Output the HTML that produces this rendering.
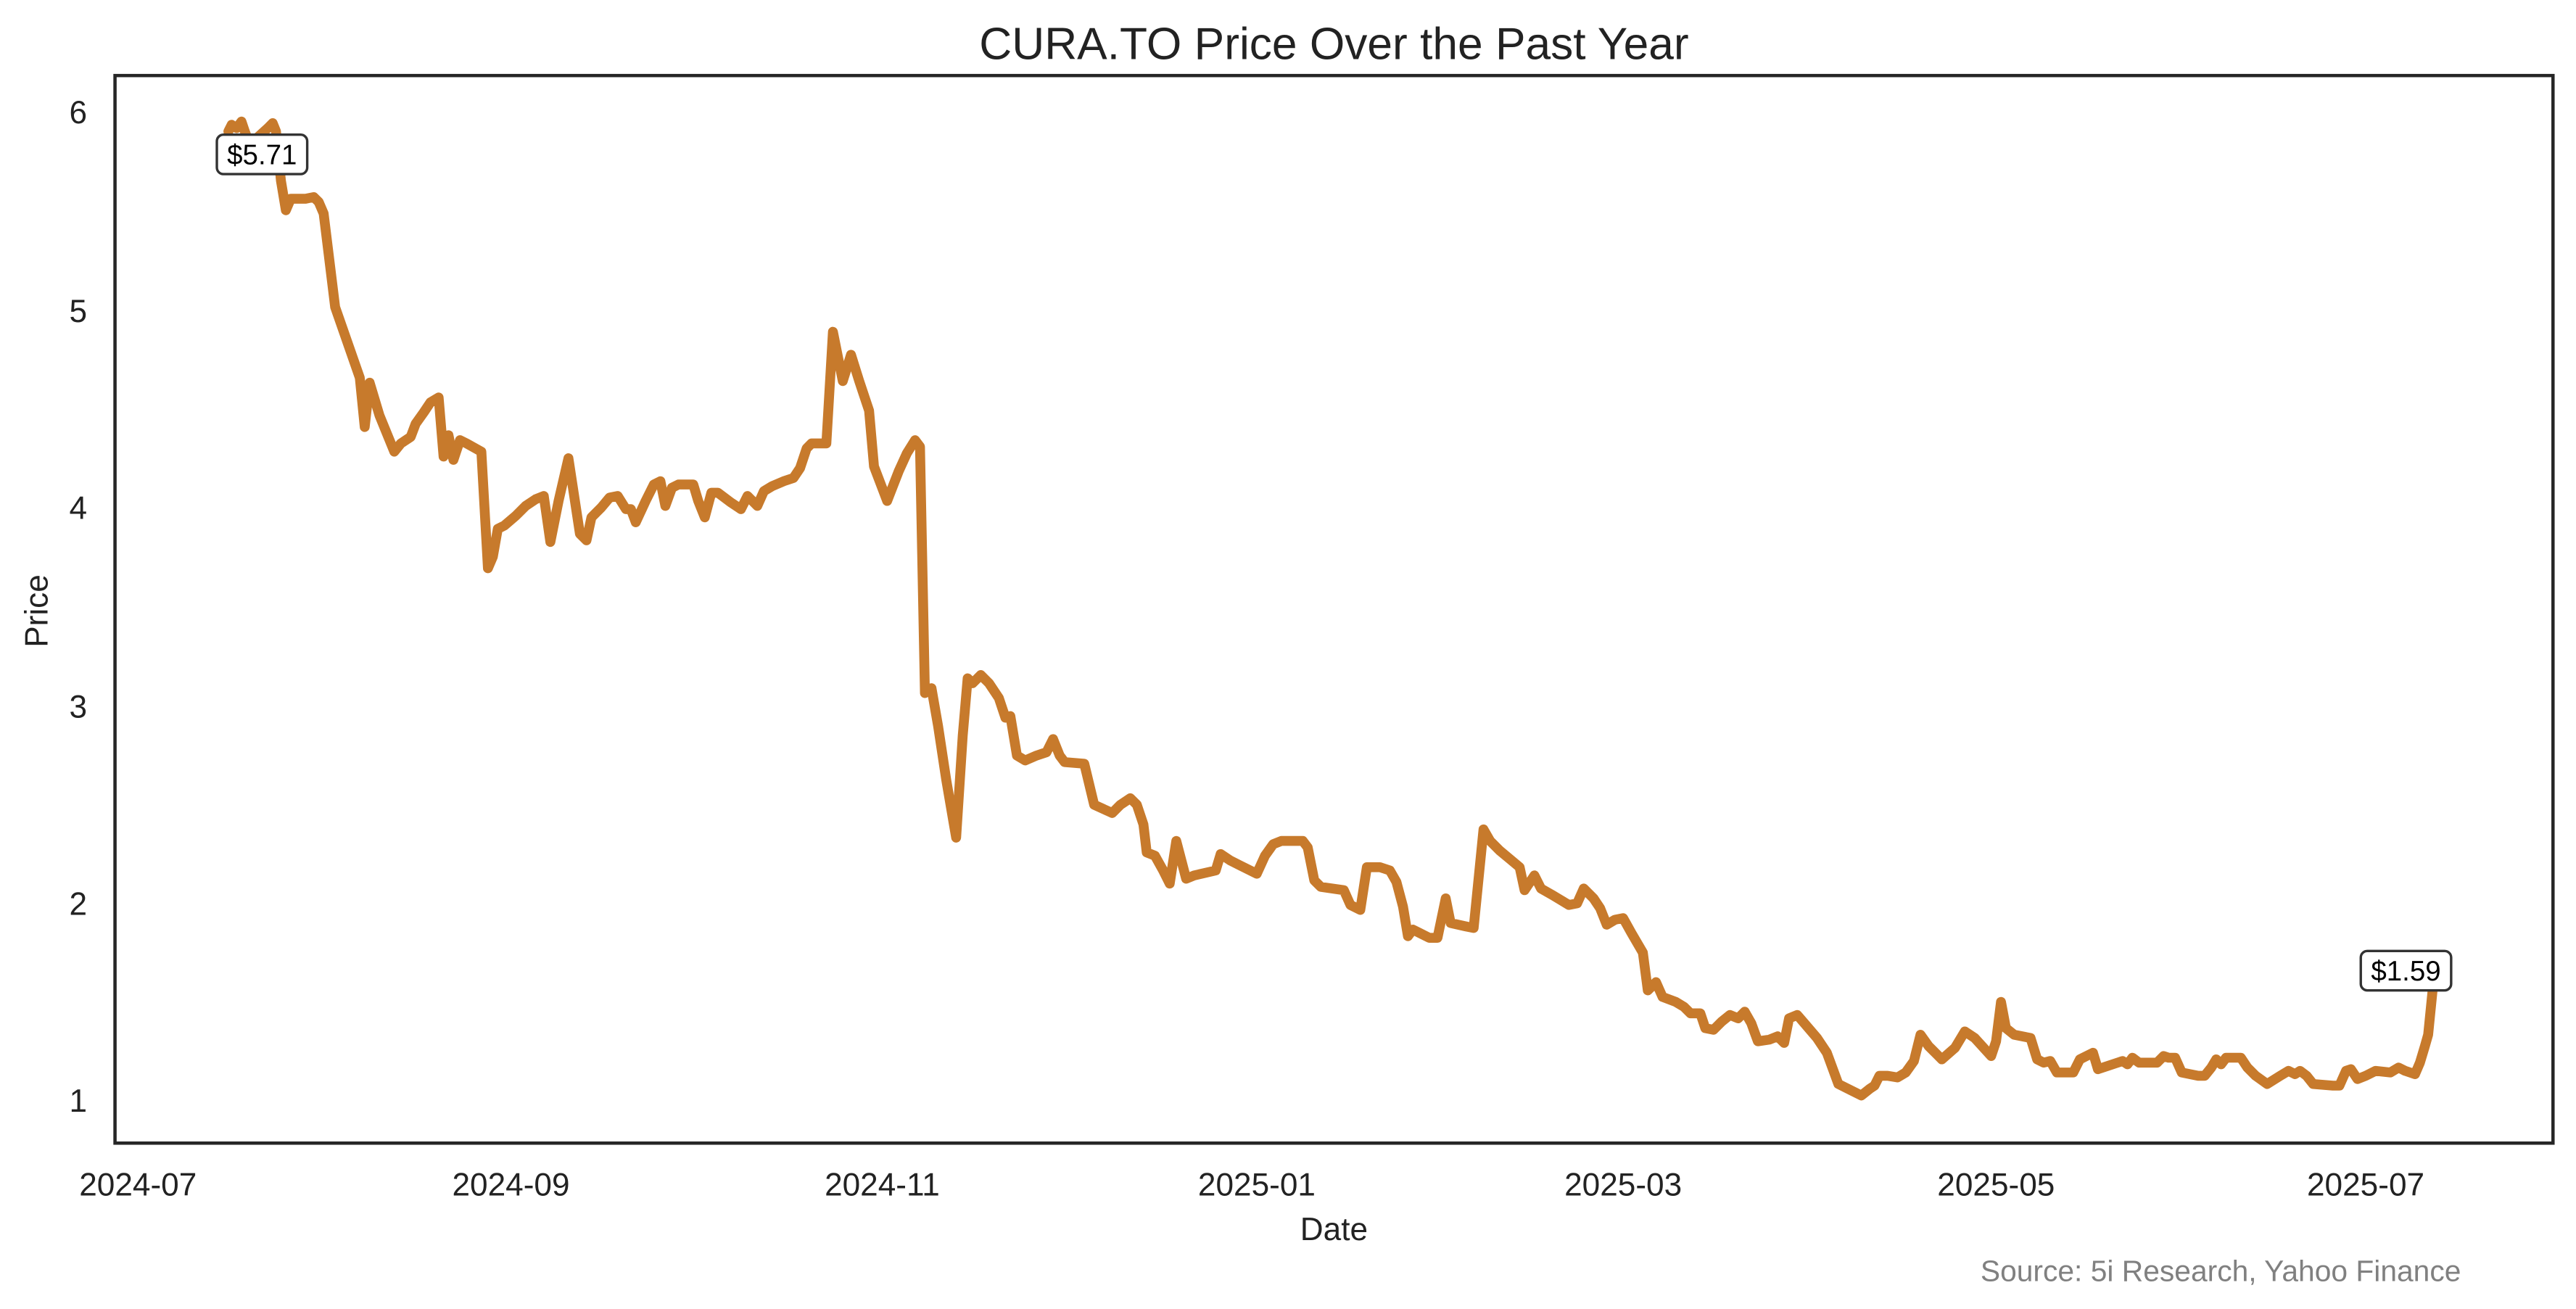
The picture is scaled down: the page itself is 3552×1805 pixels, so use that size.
<!DOCTYPE html>
<html><head><meta charset="utf-8"><style>html,body{margin:0;padding:0;background:#fff}svg{display:block}</style></head>
<body>
<svg width="3552" height="1805" viewBox="0 0 1568 797" preserveAspectRatio="none" xmlns="http://www.w3.org/2000/svg" font-family="Liberation Sans, Arial, sans-serif">
<rect width="1568" height="797" fill="#fff"/>
<text x="812" y="36" font-size="27.5" text-anchor="middle" fill="#222">CURA.TO Price Over the Past Year</text>
<g font-size="19.5" fill="#222" text-anchor="end">
<text x="53" y="75">6</text><text x="53" y="196">5</text><text x="53" y="316">4</text>
<text x="53" y="437">3</text><text x="53" y="557">2</text><text x="53" y="677">1</text>
</g>
<g font-size="19.5" fill="#222" text-anchor="middle">
<text x="84" y="728">2024-07</text><text x="311" y="728">2024-09</text><text x="537" y="728">2024-11</text>
<text x="765" y="728">2025-01</text><text x="988" y="728">2025-03</text><text x="1215" y="728">2025-05</text>
<text x="1440" y="728">2025-07</text>
</g>
<text x="812" y="755" font-size="19.5" fill="#222" text-anchor="middle">Date</text>
<text transform="translate(29,372) rotate(-90)" font-size="19.5" fill="#222" text-anchor="middle">Price</text>
<text x="1498" y="780" font-size="18" fill="#808080" text-anchor="end">Source: 5i Research, Yahoo Finance</text>
<polyline fill="none" stroke="#c77a2c" stroke-width="6" stroke-linejoin="round" stroke-linecap="round" points="139,80 141,76 144,78 147,74 149,80 152,88 163,78 166,75 168,80 171,110 174,128 177,121 186,121 191,120 194,123 197,130 204,187 219,230 222,260 225,233 231,253 240,275 244,270 250,266 253,258 258,251 262,245 267,242 270,278 273,265 276,280 280,268 284,270 293,275 297,346 300,339 303,322 307,320 314,314 320,308 326,304 331,302 335,330 340,305 346,279 353,325 357,329 360,315 366,309 371,303 376,302 381,310 384,310 387,318 393,305 398,295 402,293 405,308 409,297 413,295 422,295 425,305 429,315 433,300 437,300 445,306 451,310 455,302 461,308 465,299 470,296 477,293 483,291 487,285 491,273 494,270 503,270 507,202 513,232 518,216 523,232 529,250 532,284 540,305 547,287 552,276 557,268 560,272 563,422 567,419 571,442 576,475 582,510 586,448 589,413 592,416 597,411 602,416 608,425 612,437 615,436 619,460 624,463 631,460 637,458 641,450 645,460 648,464 660,465 666,490 677,495 682,490 688,486 692,490 696,502 698,519 703,521 708,530 712,538 716,512 722,535 727,533 740,530 743,520 749,524 755,527 761,530 765,532 770,521 775,514 780,512 793,512 796,516 800,536 804,540 818,542 822,551 828,554 832,528 840,528 846,530 850,537 854,552 857,570 860,566 864,568 870,571 875,571 880,547 883,562 892,564 897,565 903,505 907,512 913,518 919,523 925,528 928,542 934,533 938,541 945,545 950,548 955,551 960,550 964,541 970,547 974,553 978,563 983,560 988,559 993,568 1000,580 1003,603 1008,598 1012,607 1020,610 1025,613 1029,617 1035,617 1038,626 1043,627 1048,622 1053,618 1058,620 1062,616 1066,623 1070,634 1077,633 1082,631 1086,635 1089,620 1094,618 1100,625 1106,632 1112,641 1119,660 1127,664 1133,667 1138,663 1141,661 1144,655 1149,655 1155,656 1160,653 1165,646 1169,630 1174,637 1182,645 1190,638 1196,628 1202,632 1212,643 1215,634 1218,610 1221,626 1226,630 1236,632 1240,645 1244,647 1248,646 1252,653 1262,653 1266,645 1270,643 1274,641 1277,651 1283,649 1292,646 1295,648 1298,644 1302,647 1313,647 1317,643 1320,644 1324,644 1328,653 1338,655 1342,655 1346,650 1349,645 1352,648 1355,644 1364,644 1368,650 1373,655 1380,660 1388,655 1393,652 1397,654 1400,652 1404,655 1408,660 1420,661 1424,661 1428,652 1431,651 1435,657 1440,655 1446,652 1455,653 1460,650 1464,652 1470,654 1473,647 1476,637 1478,630 1481,600"/>
<rect x="70" y="46" width="1484" height="650" fill="none" stroke="#262626" stroke-width="2"/>
<rect x="132" y="82" width="55" height="24" rx="4" fill="#fff" stroke="#333" stroke-width="1.5"/>
<text x="159.5" y="100" font-size="17" fill="#000" text-anchor="middle">$5.71</text>
<rect x="1437" y="579" width="55" height="24" rx="4" fill="#fff" stroke="#333" stroke-width="1.5"/>
<text x="1464.5" y="597" font-size="17" fill="#000" text-anchor="middle">$1.59</text>
</svg>
</body></html>
